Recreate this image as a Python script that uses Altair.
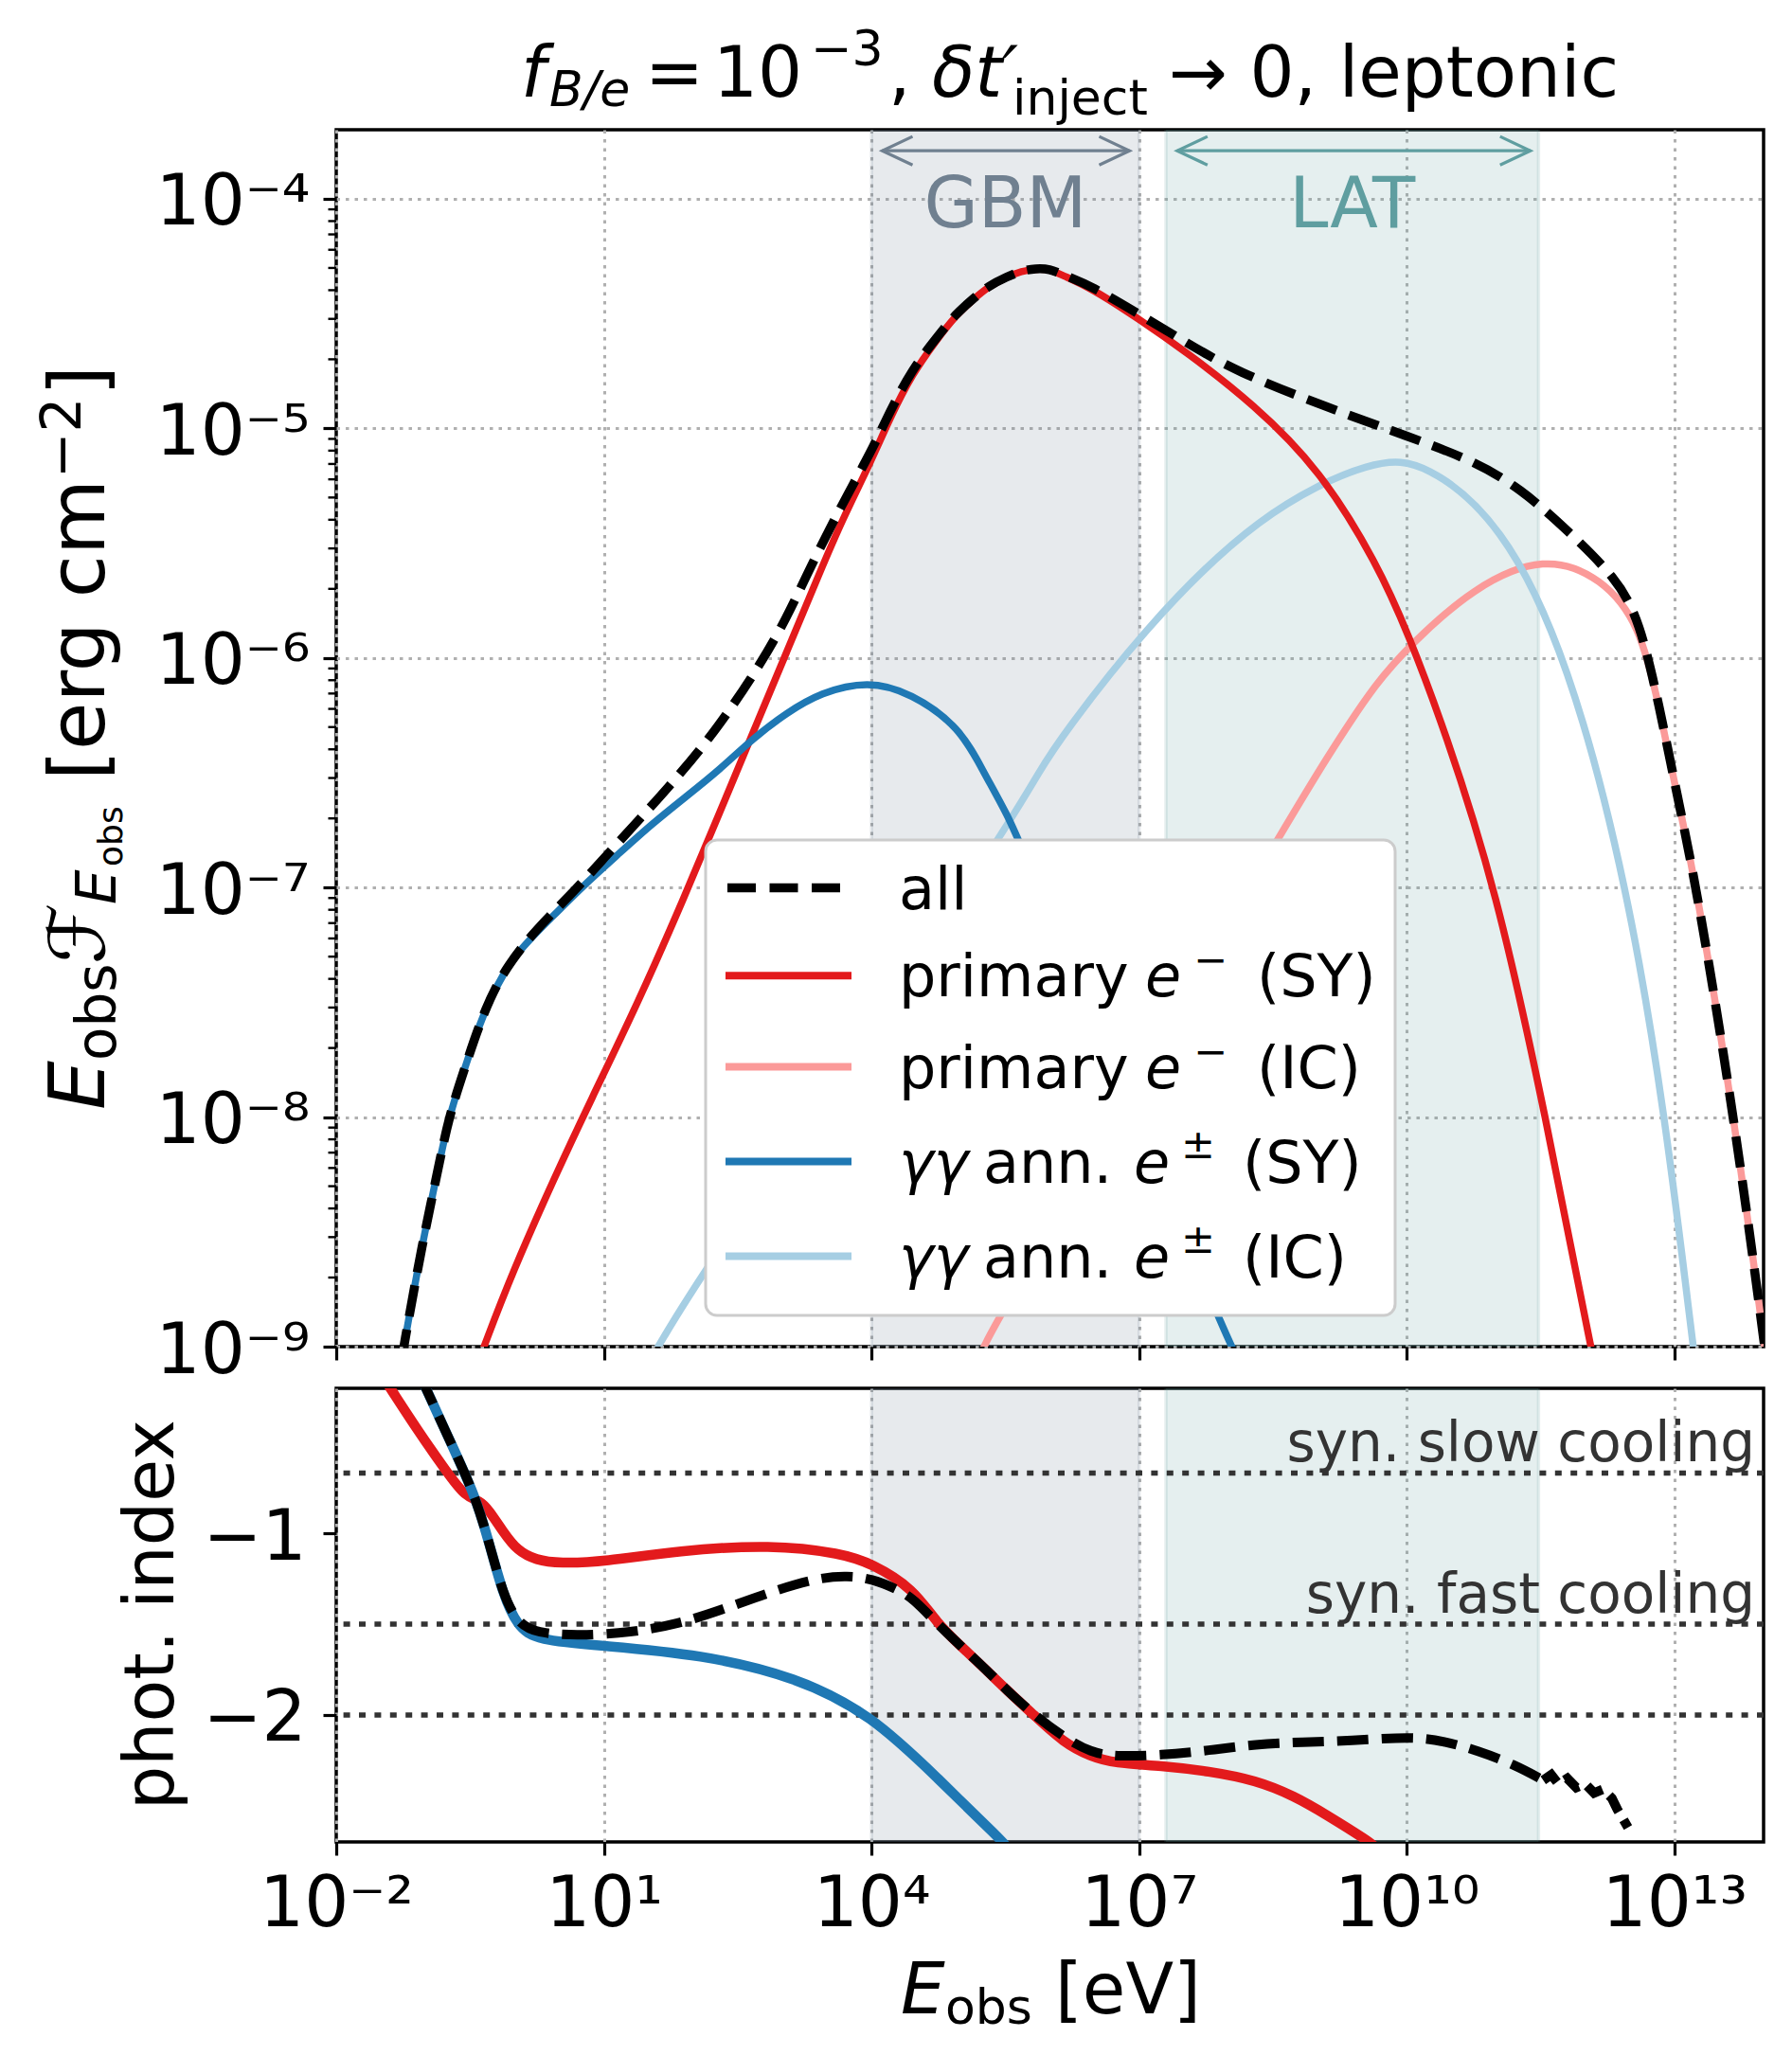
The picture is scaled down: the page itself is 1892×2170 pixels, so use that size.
import altair as alt
import pandas as pd

FONT = "DejaVu Sans"

# ---------------- upper panel: log10(E_obs / eV) and log10(E F_E / erg cm^-2) ----------------
ALL_LOGE = [-1.35, -1.24, -1.03, -0.87, -0.74, -0.553, -0.40, -0.174, 0.205, 0.622, 1.00, 1.38, 1.759,
            2.139, 2.442, 2.745, 3.049, 3.276, 3.67, 4.00, 4.20, 4.46, 4.73, 4.94, 5.15, 5.31, 5.52,
            5.68, 5.84, 6.00, 6.14, 6.47, 7.00, 7.53, 8.07, 9.14, 10.02, 10.74, 11.28, 11.81, 12.35,
            12.61, 12.83, 13.04, 13.25, 13.67, 14.00, 14.05]
ALL_LOGF = [-9.25, -8.99, -8.54, -8.25, -8.00, -7.78, -7.60, -7.388, -7.196, -7.035, -6.873, -6.711, -6.548,
            -6.372, -6.21, -6.033, -5.827, -5.635, -5.33, -5.10, -4.93, -4.74, -4.605, -4.503, -4.431, -4.38, -4.339,
            -4.314, -4.303, -4.305, -4.33, -4.38, -4.503, -4.626, -4.75, -4.913, -5.036, -5.139, -5.262, -5.447, -5.652,
            -5.836, -6.206, -6.616, -7.00, -8.00, -8.96, -9.12]

PRI_SY_LOGE = [-0.40, -0.344, -0.03, 0.45, 0.849, 1.38, 1.911, 2.29, 2.67, 3.049, 3.428, 3.67, 4.00, 4.20,
               4.46, 4.73, 4.94, 5.15, 5.31, 5.52, 5.68, 5.84, 6.00, 6.14, 6.47, 7.00, 7.53, 8.28, 9.03,
               9.67, 10.02, 10.42, 11.00, 11.56, 12.06, 12.12]
PRI_SY_LOGF = [-9.06, -9.00, -8.68, -8.26, -7.93, -7.505, -7.035, -6.68, -6.327, -5.974, -5.62, -5.40, -5.14, -4.96,
               -4.76, -4.615, -4.51, -4.435, -4.383, -4.34, -4.315, -4.305, -4.307, -4.333, -4.39, -4.524, -4.667, -4.893, -5.18,
               -5.59, -5.898, -6.308, -7.00, -8.00, -9.00, -9.10]

PRI_IC_LOGE = [5.20, 5.26, 5.47, 8.44, 9.14, 9.67, 10.05, 10.74, 11.55, 12.19, 12.61, 12.83, 13.04,
               13.25, 13.67, 14.00, 14.05]
PRI_IC_LOGF = [-9.05, -9.00, -8.84, -6.86, -6.41, -6.10, -5.94, -5.693, -5.55, -5.652, -5.85, -6.21, -6.62,
               -7.00, -8.00, -8.96, -9.12]

GG_SY_LOGE = [-1.35, -1.24, -1.03, -0.87, -0.74, -0.553, -0.40, -0.212, 0.016, 0.395, 0.774, 1.153, 1.532,
              1.911, 2.29, 2.67, 3.049, 3.428, 3.959, 4.44, 4.99, 5.26, 5.52, 5.73, 7.88, 8.04, 8.10]
GG_SY_LOGF = [-9.25, -8.99, -8.54, -8.25, -8.00, -7.78, -7.60, -7.432, -7.285, -7.138, -6.99, -6.858, -6.725,
              -6.607, -6.49, -6.35, -6.239, -6.151, -6.099, -6.151, -6.30, -6.50, -6.68, -6.858, -8.87, -9.00, -9.05]

GG_IC_LOGE = [1.50, 1.61, 2.14, 5.34, 5.93, 6.14, 7.00, 8.34, 9.67, 10.21, 11.06, 11.81, 12.48,
              12.90, 13.21, 13.26]
GG_IC_LOGF = [-9.07, -9.00, -8.65, -6.86, -6.46, -6.34, -5.898, -5.365, -5.125, -5.15, -5.406, -6.00, -7.00,
              -8.00, -9.00, -9.15]

# ---------------- lower panel: photon index ----------------
IDX_ALL_LOGE = [-1.06, -1.00, -0.71, -0.45, -0.29, -0.13, 0.03, 0.24, 0.72, 1.30, 1.83, 2.35, 2.88, 3.41,
                3.73, 4.00, 4.31, 4.47, 4.73, 5.00, 5.26, 5.52, 5.82, 6.19, 6.46, 6.72, 7.25, 7.78, 8.31,
                8.83, 9.36, 10.05, 10.42, 10.79, 11.21, 11.53, 11.62, 11.70, 11.80, 11.90, 12.00, 12.10,
                12.20, 12.30, 12.36, 12.48]
IDX_ALL = [-0.13, -0.194, -0.506, -0.783, -1.043, -1.338, -1.49, -1.55, -1.563, -1.546, -1.50, -1.416, -1.32, -1.243,
           -1.234, -1.248, -1.312, -1.36, -1.494, -1.62, -1.74, -1.865, -2.00, -2.135, -2.205, -2.23, -2.222, -2.196, -2.161,
           -2.149, -2.144, -2.118, -2.144, -2.196, -2.274, -2.36, -2.33, -2.38, -2.35, -2.40, -2.38, -2.43,
           -2.41, -2.46, -2.52, -2.62]
IDX_ALL_NOISY_FROM = 11.53   # above this energy the index curve is jagged

IDX_PRI_SY_LOGE = [-1.50, -1.40, -1.08, -0.76, -0.55, -0.39, -0.29, -0.13, 0.03, 0.24, 0.50, 1.00, 1.83, 2.88,
                   3.67, 4.00, 4.47, 4.73, 5.00, 5.26, 5.52, 5.82, 6.15, 6.46, 6.72, 7.25, 7.78, 8.31, 8.74,
                   9.10, 9.58, 9.65]
IDX_PRI_SY = [-0.12, -0.194, -0.437, -0.662, -0.80, -0.818, -0.87, -0.99, -1.095, -1.147, -1.165, -1.156, -1.095, -1.06,
              -1.11, -1.165, -1.303, -1.494, -1.62, -1.74, -1.865, -2.00, -2.152, -2.23, -2.265, -2.28, -2.31, -2.36, -2.447,
              -2.55, -2.698, -2.73]

IDX_GG_SY_LOGE = [-1.06, -1.00, -0.71, -0.45, -0.29, -0.13, 0.03, 0.24, 1.00, 2.09, 3.15, 4.00, 4.73, 5.47, 5.52]
IDX_GG_SY = [-0.13, -0.194, -0.506, -0.783, -1.043, -1.338, -1.51, -1.589, -1.619, -1.667, -1.789, -2.00, -2.343,
             -2.698, -2.73]

REF_INDEX = [-2.0 / 3.0, -1.5, -2.0]
REF_LABELS = ["syn. slow cooling", "syn. fast cooling", ""]

# ---------------- instruments ----------------
BAND_NAMES = ["GBM", "LAT"]
BAND_LO = [1e4, 2e7]
BAND_HI = [1e7, 3e11]
BAND_ARROW_LO = [1.32e4, 2.67e7]
BAND_ARROW_HI = [7.8e6, 2.43e11]
BAND_COLORS = ["#708090", "#5f9ea0"]

# ---------------- ticks ----------------
X_TICKS = [1e-2, 1e1, 1e4, 1e7, 1e10, 1e13]
X_TICK_LABELS = ["10⁻²", "10¹", "10⁴", "10⁷", "10¹⁰", "10¹³"]
Y_TICKS = [1e-9, 1e-8, 1e-7, 1e-6, 1e-5, 1e-4]
Y_TICK_LABELS = ["10⁻⁹", "10⁻⁸", "10⁻⁷", "10⁻⁶", "10⁻⁵", "10⁻⁴"]
Y_MINOR = [m * 10.0 ** d for d in range(-9, -4) for m in range(2, 10)]
IDX_TICKS = [-2, -1]
IDX_TICK_LABELS = ["−2", "−1"]

# ---------------- series / legend ----------------
SERIES_KEYS = ["all", "pri_sy", "pri_ic", "gg_sy", "gg_ic"]
SERIES_COLORS = ["#000000", "#e31a1c", "#fb9a99", "#1f78b4", "#a6cee3"]
COLOR = dict(zip(SERIES_KEYS, SERIES_COLORS))

W, H1, H2 = 1507, 1285, 479
INTERP = "basis"


def label_expr(vals, labs):
    s = ""
    for v, l in zip(vals, labs):
        s += f"abs(datum.value - ({v!r})) <= {abs(v) * 0.01!r} ? '{l}' : "
    return s + "''"


def up_df(key, loge, logf):
    return pd.DataFrame({"series": key, "E": [10.0 ** v for v in loge], "F": [10.0 ** v for v in logf]})


def lo_df(key, loge, idx):
    return pd.DataFrame({"series": key, "E": [10.0 ** v for v in loge], "I": idx})


UP = {
    "all": up_df("all", ALL_LOGE, ALL_LOGF),
    "pri_sy": up_df("pri_sy", PRI_SY_LOGE, PRI_SY_LOGF),
    "pri_ic": up_df("pri_ic", PRI_IC_LOGE, PRI_IC_LOGF),
    "gg_sy": up_df("gg_sy", GG_SY_LOGE, GG_SY_LOGF),
    "gg_ic": up_df("gg_ic", GG_IC_LOGE, GG_IC_LOGF),
}
all_idx = lo_df("all", IDX_ALL_LOGE, IDX_ALL)
cut = 10.0 ** IDX_ALL_NOISY_FROM
LO = {
    "all_smooth": all_idx[all_idx["E"] <= cut * 1.0001],
    "all_noisy": all_idx[all_idx["E"] >= cut * 0.9999],
    "pri_sy": lo_df("pri_sy", IDX_PRI_SY_LOGE, IDX_PRI_SY),
    "gg_sy": lo_df("gg_sy", IDX_GG_SY_LOGE, IDX_GG_SY),
}

band_df = pd.DataFrame({
    "name": BAND_NAMES, "lo": BAND_LO, "hi": BAND_HI,
    "alo": BAND_ARROW_LO, "ahi": BAND_ARROW_HI, "color": BAND_COLORS,
})
band_df["mid"] = (band_df["lo"] * band_df["hi"]) ** 0.5
band_df["ay"] = 1.62e-4
band_df["ty"] = 7.5e-5

ref_df = pd.DataFrame({"v": REF_INDEX, "label": REF_LABELS})
minor_df = pd.DataFrame({"v": Y_MINOR})
ONE = pd.DataFrame({"k": [0]})

x_scale = alt.Scale(type="log", domain=[1e-2, 1e14], nice=False)
y1_scale = alt.Scale(type="log", domain=[1e-9, 2e-4], nice=False)
y2_scale = alt.Scale(type="linear", domain=[-2.7, -0.2], nice=False, zero=False)

AX = dict(domain=False, tickColor="black", tickWidth=3.2, tickSize=14, labelFont=FONT,
          labelFontSize=74, labelColor="black", title=None, labelOverlap=False, labelFlush=False,
          labelBound=False, gridColor="#b0b0b0", gridDash=[3.5, 6], gridWidth=3)

x_axis_top = alt.Axis(values=X_TICKS, labels=False, grid=True, **AX)
x_axis_bot = alt.Axis(values=X_TICKS, labelExpr=label_expr(X_TICKS, X_TICK_LABELS), grid=True,
                      labelBaseline="alphabetic", labelPadding=74, **AX)
y_axis_top = alt.Axis(values=Y_TICKS, labelExpr=label_expr(Y_TICKS, Y_TICK_LABELS), grid=True,
                      labelBaseline="alphabetic", labelOffset=27, labelPadding=14, **AX)
y_axis_bot = alt.Axis(values=IDX_TICKS, labelExpr=label_expr(IDX_TICKS, IDX_TICK_LABELS), grid=False,
                      labelBaseline="alphabetic", labelOffset=27, labelPadding=18, **AX)

XU = alt.X("E:Q", scale=x_scale, axis=x_axis_top)
XL = alt.X("E:Q", scale=x_scale, axis=x_axis_bot)


def txt(text, x, y, size, italic=False, angle=0, align="left", color="black"):
    return alt.Chart(ONE).mark_text(
        text=text, font=FONT, fontSize=size, fontStyle="italic" if italic else "normal",
        angle=angle, align=align, baseline="alphabetic", color=color, clip=False,
    ).encode(x=alt.value(x), y=alt.value(y))


# ================= upper panel =================
up_layers = []
# layout anchor (keeps plot origin at a fixed place on the page)
up_layers.append(alt.Chart(ONE).mark_rect(fill="white").encode(
    x=alt.value(-345), x2=alt.value(-344), y=alt.value(-127), y2=alt.value(-126)))

up_layers.append(alt.Chart(band_df).mark_rect(clip=True, fillOpacity=0.165, strokeOpacity=0.165,
                                              strokeWidth=3.5).encode(
    x=alt.X("lo:Q", scale=x_scale, axis=x_axis_top), x2="hi:Q",
    fill=alt.Fill("color:N", scale=None), stroke=alt.Stroke("color:N", scale=None)))

# minor ticks on the log y axis
up_layers.append(alt.Chart(minor_df).mark_rule(color="black", strokeWidth=2.4, clip=False).encode(
    y=alt.Y("v:Q", scale=y1_scale, axis=y_axis_top), x=alt.value(0), x2=alt.value(-8.5)))

for key in ["pri_ic", "gg_ic", "pri_sy", "gg_sy"]:
    up_layers.append(alt.Chart(UP[key]).mark_line(color=COLOR[key], strokeWidth=7.5, clip=True,
                                                  interpolate=INTERP).encode(
        x=XU, y=alt.Y("F:Q", scale=y1_scale, axis=y_axis_top)))
up_layers.append(alt.Chart(UP["all"]).mark_line(color="black", strokeWidth=9.5, strokeDash=[33, 14],
                                                clip=True, interpolate=INTERP).encode(
    x=XU, y=alt.Y("F:Q", scale=y1_scale, axis=y_axis_top)))

# instrument arrows and names
up_layers.append(alt.Chart(band_df).mark_rule(strokeWidth=3.2).encode(
    x=alt.X("alo:Q", scale=x_scale, axis=x_axis_top), x2="ahi:Q",
    y=alt.Y("ay:Q", scale=y1_scale, axis=y_axis_top), color=alt.Color("color:N", scale=None)))
up_layers.append(alt.Chart(band_df).mark_point(shape="M2,-0.94L0,0L2,0.94", size=1024, filled=False,
                                               strokeWidth=3.2, opacity=1).encode(
    x=alt.X("alo:Q", scale=x_scale, axis=x_axis_top),
    y=alt.Y("ay:Q", scale=y1_scale, axis=y_axis_top), color=alt.Color("color:N", scale=None)))
up_layers.append(alt.Chart(band_df).mark_point(shape="M-2,-0.94L0,0L-2,0.94", size=1024, filled=False,
                                               strokeWidth=3.2, opacity=1).encode(
    x=alt.X("ahi:Q", scale=x_scale, axis=x_axis_top),
    y=alt.Y("ay:Q", scale=y1_scale, axis=y_axis_top), color=alt.Color("color:N", scale=None)))
up_layers.append(alt.Chart(band_df).mark_text(font=FONT, fontSize=74, baseline="alphabetic",
                                              align="center").encode(
    x=alt.X("mid:Q", scale=x_scale, axis=x_axis_top),
    y=alt.Y("ty:Q", scale=y1_scale, axis=y_axis_top),
    text="name:N", color=alt.Color("color:N", scale=None)))

# legend
up_layers.append(alt.Chart(ONE).mark_rect(fill="white", stroke="#cccccc", strokeWidth=3,
                                          cornerRadius=12, clip=False).encode(
    x=alt.value(390), x2=alt.value(1118), y=alt.value(750), y2=alt.value(1252)))
LEG_ROWS = [800.4, 893.2, 989.6, 1089.6, 1189.6]
for key, ry in zip(SERIES_KEYS, LEG_ROWS):
    if key == "all":
        m = alt.Chart(ONE).mark_rule(color="black", strokeWidth=9.5, strokeDash=[30, 14.5], clip=False)
        up_layers.append(m.encode(x=alt.value(413), x2=alt.value(544), y=alt.value(ry)))
    else:
        m = alt.Chart(ONE).mark_rule(color=COLOR[key], strokeWidth=8, clip=False)
        up_layers.append(m.encode(x=alt.value(411), x2=alt.value(544), y=alt.value(ry)))
LS, LSS = 62, 43
up_layers += [
    txt("all", 594, 823, LS),
    txt("primary", 594, 915, LS), txt("e", 854, 915, LS, italic=True), txt("−", 905, 891, LSS),
    txt("(SY)", 972, 915, LS),
    txt("primary", 594, 1011.5, LS), txt("e", 854, 1011.5, LS, italic=True), txt("−", 905, 987.5, LSS),
    txt("(IC)", 972, 1011.5, LS),
    txt("γγ", 594, 1111.5, LS, italic=True), txt("ann.", 683, 1111.5, LS),
    txt("e", 842, 1111.5, LS, italic=True), txt("±", 892, 1086, LSS), txt("(SY)", 957, 1111.5, LS),
    txt("γγ", 594, 1211.5, LS, italic=True), txt("ann.", 683, 1211.5, LS),
    txt("e", 842, 1211.5, LS, italic=True), txt("±", 892, 1186, LSS), txt("(IC)", 957, 1211.5, LS),
]

# title
up_layers += [
    txt("f", 195, -35, 74, italic=True), txt("B/e", 225, -25, 52, italic=True),
    txt("=", 326, -35, 74), txt("10", 398, -35, 74), txt("−3", 501, -68, 52),
    txt(",", 583, -35, 74), txt("δt′", 629, -35, 74, italic=True),
    txt("inject", 714, -16, 52), txt("→ 0, leptonic", 879, -35, 74),
]
# y label (rotated)
up_layers += [
    txt("E", -245, 1035, 82, italic=True, angle=270),
    txt("obs", -233, 983, 58, angle=270),
    txt("ℱ", -245, 881, 82, angle=270),
    txt("E", -233, 818, 58, italic=True, angle=270),
    txt("obs", -226, 778, 36, angle=270),
    txt("[erg cm", -245, 687, 82, angle=270),
    txt("−2", -270, 368, 58, angle=270),
    txt("]", -245, 281, 82, angle=270),
]

upper = alt.layer(*up_layers).properties(width=W, height=H1)

# ================= lower panel =================
lo_layers = []
lo_layers.append(alt.Chart(band_df).mark_rect(clip=True, fillOpacity=0.165, strokeOpacity=0.165,
                                              strokeWidth=3.5).encode(
    x=alt.X("lo:Q", scale=x_scale, axis=x_axis_bot), x2="hi:Q",
    fill=alt.Fill("color:N", scale=None), stroke=alt.Stroke("color:N", scale=None)))
lo_layers.append(alt.Chart(ref_df).mark_rule(color="#333333", strokeWidth=5.5, strokeDash=[7, 9.4]).encode(
    y=alt.Y("v:Q", scale=y2_scale, axis=y_axis_bot)))
for key in ["pri_sy", "gg_sy"]:
    lo_layers.append(alt.Chart(LO[key]).mark_line(color=COLOR[key], strokeWidth=10.5, clip=True,
                                                  interpolate=INTERP).encode(
        x=XL, y=alt.Y("I:Q", scale=y2_scale, axis=y_axis_bot)))
lo_layers.append(alt.Chart(LO["all_smooth"]).mark_line(color="black", strokeWidth=10, strokeDash=[33, 14],
                                                       clip=True, interpolate=INTERP).encode(
    x=XL, y=alt.Y("I:Q", scale=y2_scale, axis=y_axis_bot)))
lo_layers.append(alt.Chart(LO["all_noisy"]).mark_line(color="black", strokeWidth=10, strokeDash=[20, 10],
                                                      clip=True, interpolate="linear").encode(
    x=XL, y=alt.Y("I:Q", scale=y2_scale, axis=y_axis_bot)))
lo_layers.append(alt.Chart(ref_df).transform_filter("datum.label != ''").mark_text(
    font=FONT, fontSize=58, color="#333333", align="right", baseline="alphabetic", dy=-12).encode(
    x=alt.value(W - 9), y=alt.Y("v:Q", scale=y2_scale, axis=y_axis_bot), text="label:N"))
lo_layers += [
    txt("phot. index", -172.5, 239, 73, angle=270, align="center"),
    txt("E", 596, 660, 74, italic=True), txt("obs", 643, 671, 52), txt("[eV]", 759, 660, 74),
]
lower = alt.layer(*lo_layers).properties(width=W, height=H2)

chart = alt.vconcat(upper, lower, spacing=44, bounds="flush").properties(padding=0).configure(
    font=FONT).configure_view(stroke="black", strokeWidth=3.5)

chart.save("out.html", embed_options={"renderer": "svg", "actions": False})
